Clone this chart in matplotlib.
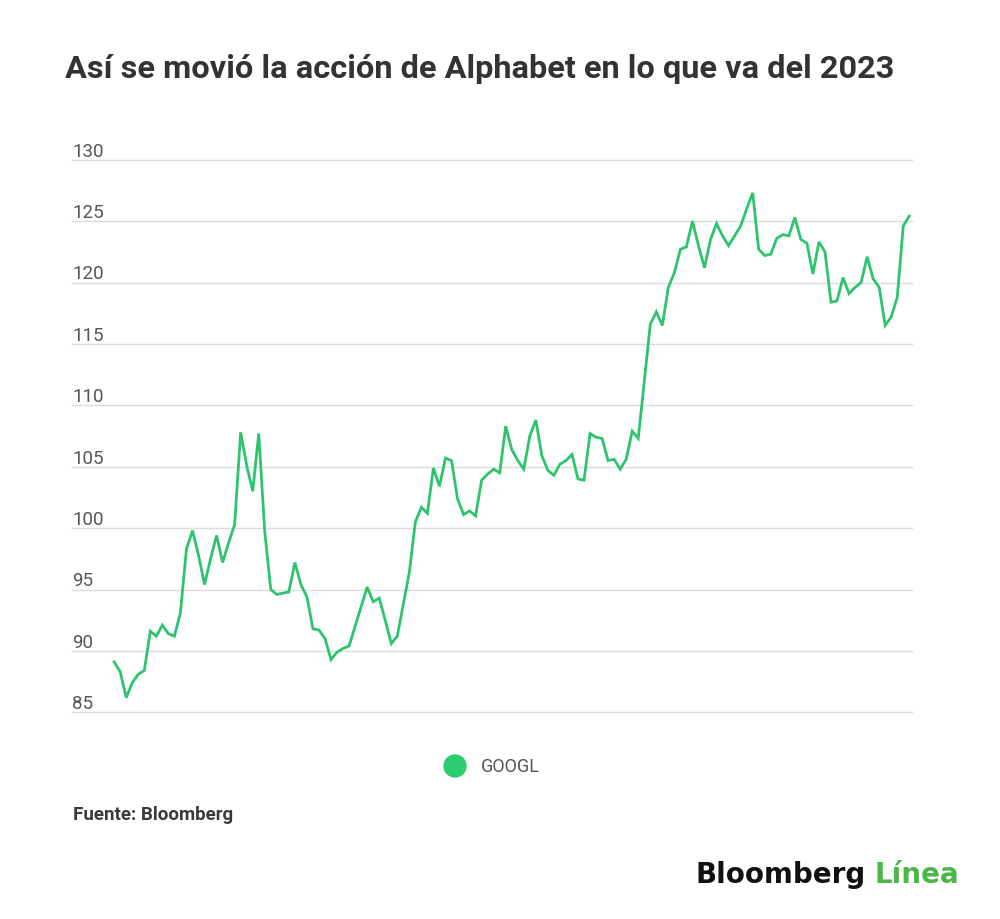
import numpy as np
import matplotlib
matplotlib.use("Agg")
import matplotlib.pyplot as plt
from matplotlib.transforms import offset_copy

# GOOGL closing prices, one per trading day (Jan 2023 - mid July 2023)
googl = [
    89.1, 88.3, 86.2, 87.4, 88.1, 88.4, 91.6, 91.2, 92.1, 91.4,
    91.2, 93.1, 98.3, 99.8, 97.8, 95.4, 97.5, 99.4, 97.2, 98.8,
    100.3, 107.8, 105.1, 103.0, 107.7, 99.7, 95.0, 94.6, 94.7, 94.8,
    97.2, 95.4, 94.4, 91.8, 91.7, 91.0, 89.3, 89.9, 90.2, 90.4,
    92.0, 93.6, 95.2, 94.0, 94.3, 92.5, 90.6, 91.2, 93.8, 96.4,
    100.5, 101.7, 101.2, 104.9, 103.4, 105.7, 105.5, 102.4, 101.1, 101.4,
    101.0, 103.9, 104.4, 104.8, 104.5, 108.3, 106.4, 105.5, 104.8, 107.5,
    108.8, 105.9, 104.7, 104.3, 105.2, 105.5, 106.0, 104.0, 103.9, 107.7,
    107.4, 107.3, 105.5, 105.6, 104.8, 105.6, 107.9, 107.3, 111.9, 116.6,
    117.6, 116.5, 119.6, 120.8, 122.7, 122.9, 125.0, 123.0, 121.2, 123.5,
    124.8, 123.8, 123.0, 123.8, 124.6, 126.0, 127.3, 122.7, 122.2, 122.3,
    123.6, 123.9, 123.8, 125.3, 123.5, 123.2, 120.7, 123.3, 122.5, 118.4,
    118.5, 120.4, 119.1, 119.6, 120.0, 122.1, 120.3, 119.6, 116.5, 117.2,
    118.8, 124.6, 125.4,
]
days = np.arange(len(googl))
y_ticks = [85, 90, 95, 100, 105, 110, 115, 120, 125, 130]
series_name = "GOOGL"

W, H = 1000, 920
fig = plt.figure(figsize=(W / 100, H / 100), dpi=100)
fig.patch.set_facecolor("white")

# axes: grid spans x 72..912 px, 130 at y=160.7 px, 85 at y=713.3 px
ax = fig.add_axes([72 / W, (H - 713.3) / H, 840 / W, 552.6 / H])
ax.set_ylim(85, 130)
ax.set_xlim(-7.0, 132.45)
for s in ax.spines.values():
    s.set_visible(False)
ax.set_xticks([])
ax.set_yticks([])

for t in y_ticks:
    ax.axhline(t, color="#dcdcdc", linewidth=1.0, zorder=1, clip_on=False)
    tr = offset_copy(ax.get_yaxis_transform(), fig=fig, x=0, y=3.0, units="points")
    ax.text(0, t, str(t), transform=tr, ha="left", va="baseline",
            fontsize=13.5, color="#555555", family="Roboto")

line_color = "#2ec46e"
ax.plot(days, googl, color=line_color, linewidth=2.0, zorder=3,
        solid_joinstyle="miter", clip_on=False)

# title
fig.text(65 / W, 1 - 69 / H, "Así se movió la acción de Alphabet en lo que va del 2023",
         ha="left", va="center", fontsize=23.4, fontweight="bold",
         color="#333333", family="Roboto")

# legend
fig.patches.append(matplotlib.patches.Ellipse((455 / W, 1 - 767 / H), 22 / W, 22 / H,
                                              transform=fig.transFigure,
                                              color="#2ecc71", zorder=5))
fig.text(481 / W, 1 - 767 / H, series_name, ha="left", va="center",
         fontsize=13, color="#555555", family="Roboto")

# source
fig.text(73 / W, 1 - 815 / H, "Fuente: Bloomberg", ha="left", va="center",
         fontsize=13.5, fontweight="bold", color="#3a3a3a", family="Roboto")

# logo
t1 = fig.text(696 / W, 1 - 883 / H, "Bloomberg", ha="left", va="baseline",
              fontsize=20, fontweight="bold", color="#111111", family="DejaVu Sans")
fig.canvas.draw()
bb = t1.get_window_extent()
fig.text((bb.x1 + 8) / W, 1 - 883 / H, "Línea", ha="left", va="baseline",
         fontsize=20, fontweight="bold", color="#4cb748", family="DejaVu Sans")

fig.savefig("out.png", dpi=100, facecolor="white")
